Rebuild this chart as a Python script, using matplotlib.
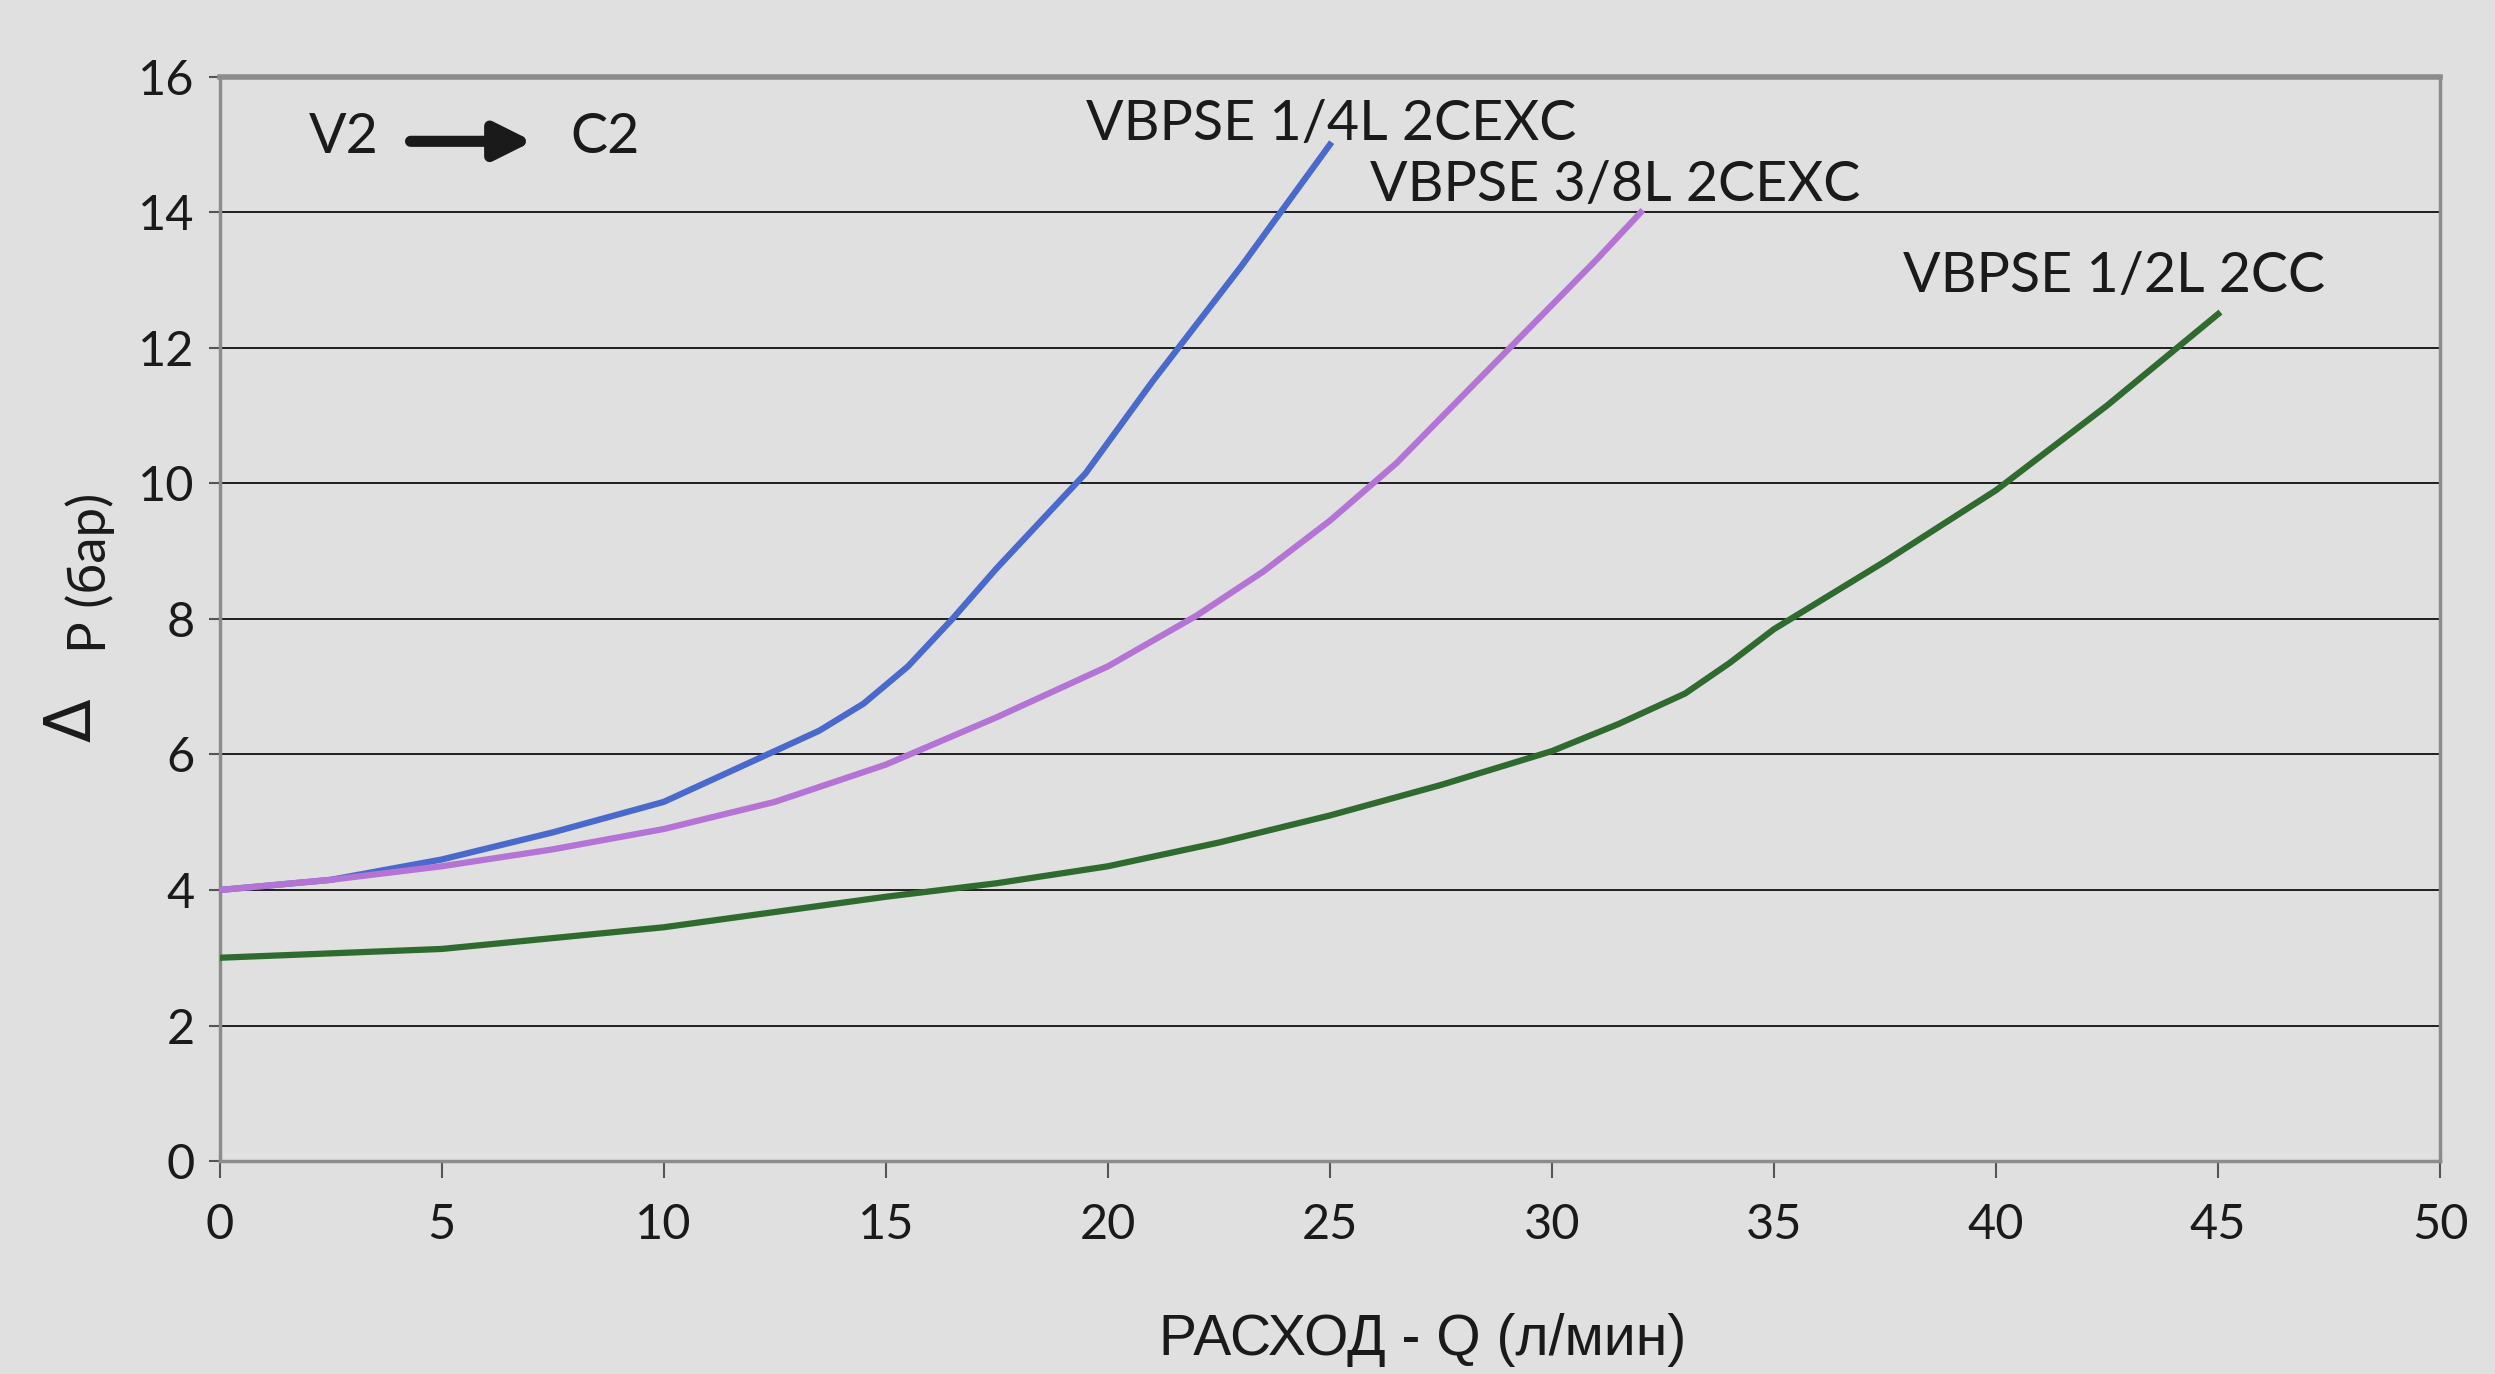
import matplotlib
matplotlib.use("Agg")
import matplotlib.pyplot as plt

# ---- data ----
q_14 = [0, 2.5, 5, 7.5, 10, 12.5, 13.5, 14.5, 15.5, 16.5, 17.5, 18.5, 19.5, 21, 23, 25]
p_14 = [4.0, 4.15, 4.45, 4.85, 5.3, 6.05, 6.35, 6.75, 7.3, 8.0, 8.75, 9.45, 10.15, 11.5, 13.2, 15.0]

q_38 = [0, 2.5, 5, 7.5, 10, 12.5, 15, 17.5, 20, 22, 23.5, 25, 26.5, 28, 29.5, 31, 32]
p_38 = [4.0, 4.15, 4.35, 4.6, 4.9, 5.3, 5.85, 6.55, 7.3, 8.05, 8.7, 9.45, 10.3, 11.3, 12.3, 13.3, 14.0]

q_12 = [0, 5, 10, 15, 17.5, 20, 22.5, 25, 27.5, 30, 31.5, 33, 34, 35, 37.5, 40, 42.5, 45]
p_12 = [3.0, 3.13, 3.45, 3.9, 4.1, 4.35, 4.7, 5.1, 5.55, 6.05, 6.45, 6.9, 7.35, 7.85, 8.85, 9.9, 11.15, 12.5]

labels = ["VBPSE 1/4L 2CEXC", "VBPSE 3/8L 2CEXC", "VBPSE 1/2L 2CC"]
colors = ["#4a69cc", "#b474d6", "#2f6b2f"]
label_pos = [(19.5, 15.3), (25.9, 14.4), (37.9, 13.05)]

x_ticks = list(range(0, 51, 5))
y_ticks = list(range(0, 17, 2))
x_label = "РАСХОД - Q (л/мин)"
y_label = "P (бар)"

bg = "#e0e0e0"
fig = plt.figure(figsize=(24.95, 13.74), dpi=100, facecolor=bg)

ax = fig.add_axes([0.088, 0.155, 0.890, 0.789])
ax.set_facecolor(bg)
ax.set_xlim(0, 50)
ax.set_ylim(0, 16)

for yv in y_ticks[1:-1]:
    ax.axhline(yv, color="#1e1e1e", lw=1.4, zorder=1)

for q, p, c in zip([q_14, q_38, q_12], [p_14, p_38, p_12], colors):
    ax.plot(q, p, color=c, lw=4.5, solid_joinstyle="round", zorder=3)

font_main = "Lato"
for lab, (lx, ly) in zip(labels, label_pos):
    ax.text(lx, ly, lab, ha="left", va="center", fontsize=40,
            family=font_main, color="#1a1a1a", zorder=4)

ax.text(2.0, 15.1, "V2", ha="left", va="center", fontsize=40,
        family=font_main, color="#1a1a1a")
ax.text(7.9, 15.1, "C2", ha="left", va="center", fontsize=40,
        family=font_main, color="#1a1a1a")
ax.annotate("", xy=(7.05, 15.05), xytext=(4.3, 15.05),
            arrowprops=dict(arrowstyle="-|>,head_length=2.2,head_width=1.1",
                            color="#1a1a1a", lw=8, shrinkA=0, shrinkB=0))

ax.set_xticks(x_ticks)
ax.set_yticks(y_ticks)
ax.tick_params(axis="x", direction="out", length=12, width=1.5,
               color="#555555", labelsize=35, pad=18)
ax.tick_params(axis="y", direction="out", length=8, width=1.5,
               color="#555555", labelsize=35, pad=10)
for lbl in ax.get_xticklabels() + ax.get_yticklabels():
    lbl.set_family(font_main)
    lbl.set_color("#1a1a1a")

for s in ["left", "right", "bottom"]:
    ax.spines[s].set_color("#8c8c8c")
    ax.spines[s].set_linewidth(2.5)
ax.spines["top"].set_color("#8c8c8c")
ax.spines["top"].set_linewidth(4)

fig.text(0.570, 0.025, x_label, ha="center", va="center", fontsize=41,
         family="Liberation Sans", color="#1a1a1a")
fig.text(0.036, 0.583, y_label, ha="center", va="center", fontsize=38,
         family=font_main, color="#1a1a1a", rotation=90)
fig.text(0.029, 0.476, "Δ", ha="center", va="center", fontsize=46,
         family="DejaVu Sans", color="#1a1a1a", rotation=90)

fig.savefig("out.png", dpi=100, facecolor=bg)
